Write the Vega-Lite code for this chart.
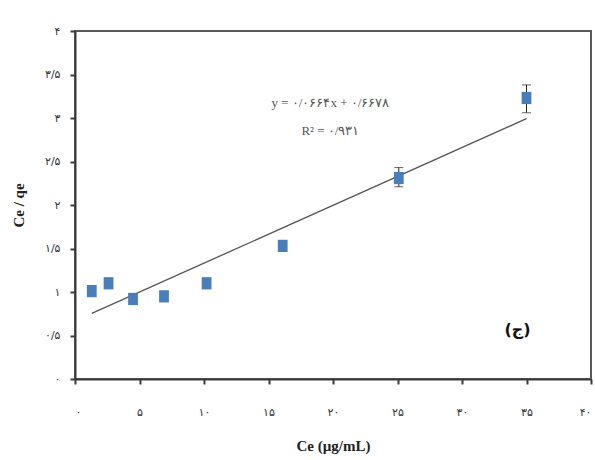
{
  "$schema": "https://vega.github.io/schema/vega-lite/v6.json",
  "width": 516,
  "height": 348,
  "autosize": {"type": "none"},
  "padding": {"left": 75, "top": 31, "right": 4, "bottom": 81},
  "background": "white",
  "config": {
    "view": {"stroke": "#5a5a5a", "strokeWidth": 2},
    "axis": {
      "grid": false,
      "domainColor": "#3a3a3a",
      "domainWidth": 2,
      "tickColor": "#3a3a3a",
      "tickWidth": 2,
      "tickSize": 5,
      "labelFont": "DejaVu Sans",
      "labelFontSize": 11,
      "labelColor": "#333333",
      "titleFont": "Liberation Serif",
      "titleFontSize": 15,
      "titleFontWeight": "bold",
      "titleColor": "#222222"
    }
  },
  "datasets": {
    "pts": [
      {"ce": 1.3, "r": 1.01},
      {"ce": 2.6, "r": 1.1},
      {"ce": 4.5, "r": 0.92},
      {"ce": 6.9, "r": 0.95},
      {"ce": 10.2, "r": 1.1},
      {"ce": 16.1, "r": 1.53},
      {"ce": 25.1, "r": 2.31},
      {"ce": 35.0, "r": 3.23}
    ],
    "err": [
      {"ce": 25.1, "lo": 2.21, "hi": 2.43},
      {"ce": 35.0, "lo": 3.06, "hi": 3.38}
    ],
    "fit": [
      {"ce": 1.3, "r": 0.754},
      {"ce": 35.0, "r": 2.992}
    ],
    "txt": [
      {"ce": 19.8, "r": 3.17, "t": "y = ۰/۰۶۶۴x + ۰/۶۶۷۸"},
      {"ce": 19.8, "r": 2.85, "t": "R² = ۰/۹۳۱"}
    ],
    "lab": [
      {"ce": 34.3, "r": 0.56, "t": "(ج)"}
    ]
  },
  "layer": [
    {
      "data": {"name": "fit"},
      "mark": {"type": "line", "color": "#555555", "strokeWidth": 1.3},
      "encoding": {
        "x": {
          "field": "ce", "type": "quantitative",
          "title": "Ce (µg/mL)",
          "scale": {"domain": [0, 40], "nice": false},
          "axis": {
            "values": [0, 5, 10, 15, 20, 25, 30, 35, 40],
            "format": "~g",
            "labelPadding": 22,
            "titlePadding": 21,
            "labelExpr": "replace(replace(replace(replace(replace(replace(replace(replace(replace(replace(datum.label,'0','۰'),'1','۱'),'2','۲'),'3','۳'),'4','۴'),'5','۵'),'6','۶'),'7','۷'),'8','۸'),'9','۹')"
          }
        },
        "y": {
          "field": "r", "type": "quantitative",
          "title": "Ce / qe",
          "scale": {"domain": [0, 4], "nice": false},
          "axis": {
            "values": [0, 0.5, 1, 1.5, 2, 2.5, 3, 3.5, 4],
            "format": "~g",
            "labelPadding": 10,
            "titlePadding": 18,
            "labelExpr": "replace(replace(replace(replace(replace(replace(replace(replace(replace(replace(replace(datum.label,'.','/'),'0','۰'),'1','۱'),'2','۲'),'3','۳'),'4','۴'),'5','۵'),'6','۶'),'7','۷'),'8','۸'),'9','۹')"
          }
        }
      }
    },
    {
      "data": {"name": "err"},
      "mark": {"type": "errorbar", "ticks": {"size": 9, "color": "#222222", "strokeWidth": 1.5}, "rule": {"color": "#222222", "strokeWidth": 1}},
      "encoding": {
        "x": {"field": "ce", "type": "quantitative", "title": "Ce (µg/mL)"},
        "y": {"field": "lo", "type": "quantitative", "title": "Ce / qe"},
        "y2": {"field": "hi"}
      }
    },
    {
      "data": {"name": "pts"},
      "mark": {"type": "point", "shape": "M-0.8,-1H0.8V1H-0.8Z", "filled": true, "size": 150, "color": "#4A7EBB", "opacity": 1},
      "encoding": {
        "x": {"field": "ce", "type": "quantitative", "title": "Ce (µg/mL)"},
        "y": {"field": "r", "type": "quantitative", "title": "Ce / qe"}
      }
    },
    {
      "data": {"name": "txt"},
      "mark": {"type": "text", "font": "Liberation Serif", "fontSize": 13, "color": "#555555"},
      "encoding": {
        "x": {"field": "ce", "type": "quantitative", "title": "Ce (µg/mL)"},
        "y": {"field": "r", "type": "quantitative", "title": "Ce / qe"},
        "text": {"field": "t"}
      }
    },
    {
      "data": {"name": "lab"},
      "mark": {"type": "text", "font": "DejaVu Sans", "fontSize": 16, "fontWeight": "bold", "color": "#111111"},
      "encoding": {
        "x": {"field": "ce", "type": "quantitative", "title": "Ce (µg/mL)"},
        "y": {"field": "r", "type": "quantitative", "title": "Ce / qe"},
        "text": {"field": "t"}
      }
    }
  ]
}
